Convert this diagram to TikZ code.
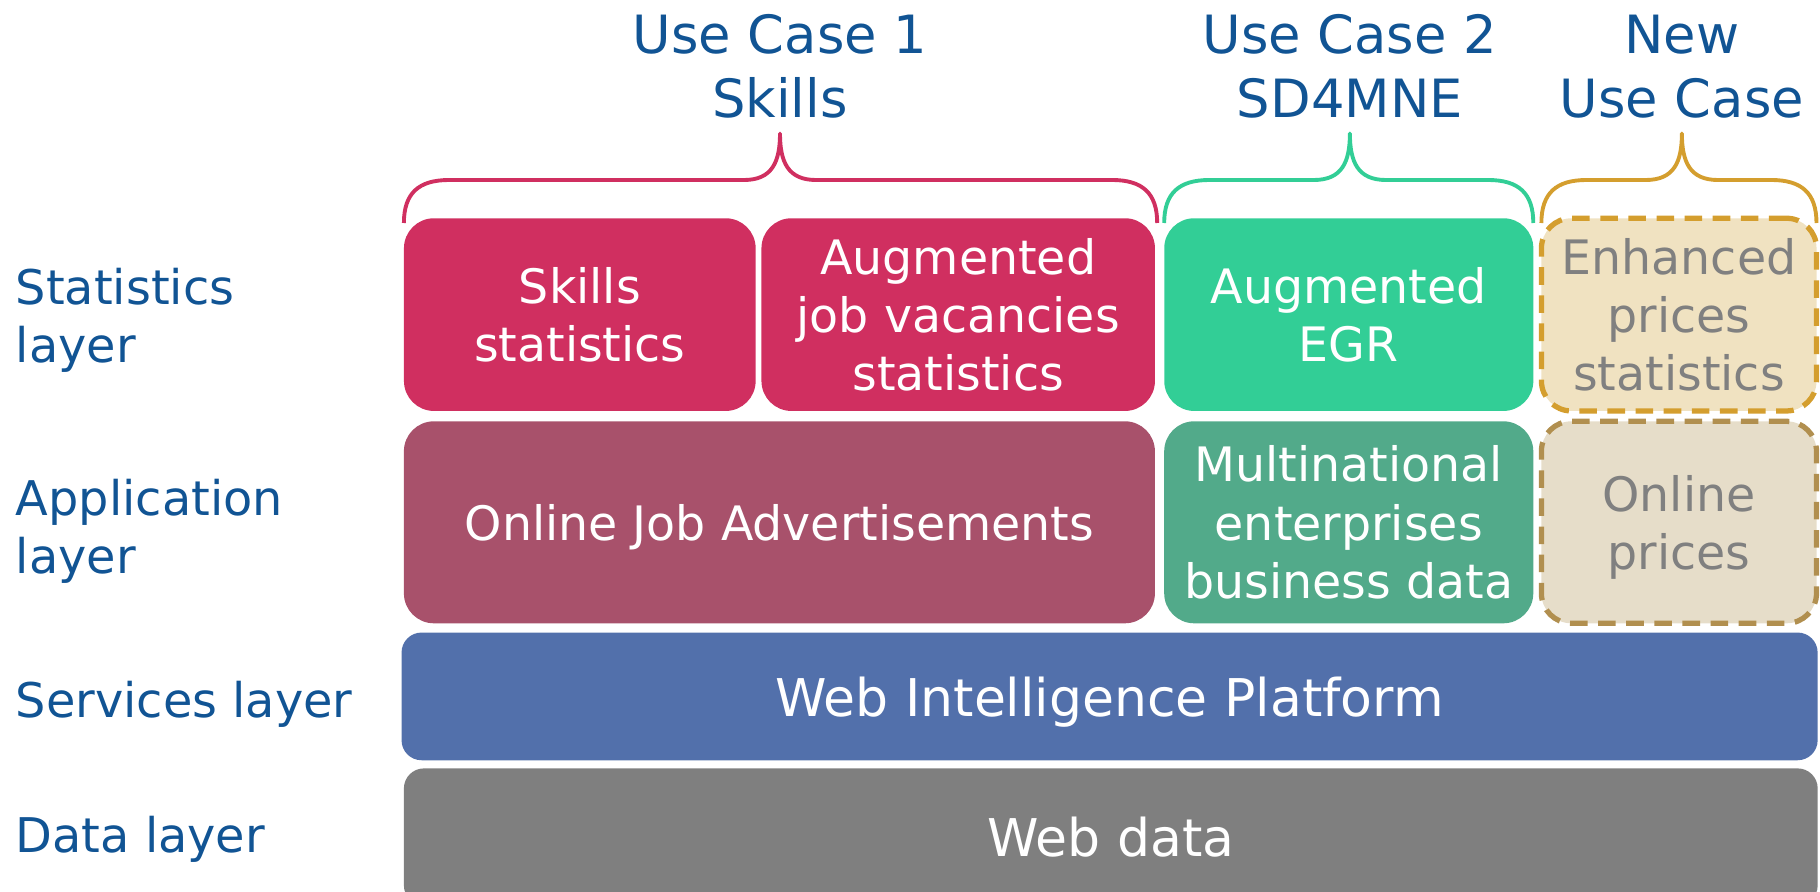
\documentclass[tikz,border=0pt]{standalone}
\usepackage{fontspec}
\setmainfont{DejaVu Sans}
\usepackage{tikz}
\usetikzlibrary{positioning}
\definecolor{ucblue}{RGB}{17,84,148}
\definecolor{statred}{RGB}{208,47,96}
\definecolor{ojared}{RGB}{168,81,107}
\definecolor{egrgreen}{RGB}{50,206,150}
\definecolor{mnegreen}{RGB}{82,170,138}
\definecolor{newfill}{RGB}{240,226,193}
\definecolor{newline}{RGB}{212,158,46}
\definecolor{onlfill}{RGB}{230,221,201}
\definecolor{onlline}{RGB}{177,143,79}
\definecolor{wipblue}{RGB}{82,112,171}
\definecolor{datagray}{RGB}{127,127,127}
\definecolor{newgray}{RGB}{128,128,128}
\tikzset{
    layer label/.style={text=ucblue,font=\fontsize{13.6}{16.6}\selectfont,align=left,anchor=west,inner sep=0pt},
    uc label/.style={text=ucblue,font=\fontsize{15}{18.2}\selectfont,align=center,inner sep=0pt},
    block/.style={rounded corners=0.3cm,inner sep=0pt,outer sep=0pt,align=center,text=white,text depth=0pt,font=\fontsize{13.5}{16.6}\selectfont},
    new block/.style={block,line width=1.5pt,dash pattern=on 5pt off 3pt,text=newgray},
    bar/.style={block,rounded corners=0.2cm,font=\fontsize{14.8}{18}\selectfont},
    brace/.style={line width=1.1pt,line join=round},
}
% curly bracket: colour, left x, tip x, right x
\newcommand{\ucbrace}[4]{%
    \draw[brace,#1] (#2,-2.23) .. controls (#2,-1.93) and (#2+0.15,-1.80) .. (#2+0.45,-1.80) -- (#3-0.36,-1.80)
        .. controls (#3-0.08,-1.80) and (#3,-1.62) .. (#3,-1.335)
        .. controls (#3,-1.62) and (#3+0.08,-1.80) .. (#3+0.36,-1.80) -- (#4-0.45,-1.80)
        .. controls (#4-0.15,-1.80) and (#4,-1.93) .. (#4,-2.23);
}
\begin{document}
\begin{tikzpicture}
    \clip (0,0) rectangle (18.2,-8.92);

    % statistics layer
    \node[block,fill=statred,minimum width=3.517cm,minimum height=1.927cm] (skillsstat) at (5.798,-3.146) {Skills\\statistics};
    \node[block,fill=statred,minimum width=3.935cm,minimum height=1.927cm,right=0.058cm of skillsstat] (jobvacstat) {Augmented\\job vacancies\\statistics};
    \node[block,fill=egrgreen,minimum width=3.691cm,minimum height=1.927cm,right=0.093cm of jobvacstat] (egr) {Augmented\\EGR};
    \node[new block,draw=newline,fill=newfill,minimum width=2.751cm,minimum height=1.927cm,right=0.081cm of egr] (prices) {Enhanced\\prices\\statistics};

    % application layer
    \node[block,fill=ojared,minimum width=7.510cm,minimum height=2.020cm] (oja) at (7.794,-5.223) {Online Job Advertisements};
    \node[block,fill=mnegreen,minimum width=3.691cm,minimum height=2.020cm,right=0.093cm of oja] (mne) {Multinational\\enterprises\\business data};
    \node[new block,draw=onlline,fill=onlfill,minimum width=2.751cm,minimum height=2.020cm,right=0.081cm of mne] (onlineprices) {Online\\prices};

    % services and data layer
    \node[bar,fill=wipblue,minimum width=14.161cm,minimum height=1.277cm] (wip) at (11.096,-6.964) {Web Intelligence Platform};
    \node[bar,fill=datagray,minimum width=14.138cm,minimum height=1.37cm] (webdata) at (11.108,-8.369) {Web data};

    % layer names
    \node[layer label] (statlayer) at (0.151,-3.204) {Statistics\\layer};
    \node[layer label] (applayer) at (0.151,-5.316) {Application\\layer};
    \node[layer label] (servlayer) at (0.151,-7.046) {Services layer};
    \node[layer label] (datalayer) at (0.151,-8.392) {Data layer};

    % use cases
    \node[uc label] (uc1) at (7.800,-0.662) {Use Case 1\\Skills};
    \node[uc label] (uc2) at (13.499,-0.662) {Use Case 2\\SD4MNE};
    \node[uc label] (newuc) at (16.819,-0.662) {New\\Use Case};

    \ucbrace{statred}{4.039}{7.800}{11.572}
    \ucbrace{egrgreen}{11.642}{13.499}{15.333}
    \ucbrace{newline}{15.414}{16.819}{18.165}
\end{tikzpicture}
\end{document}
